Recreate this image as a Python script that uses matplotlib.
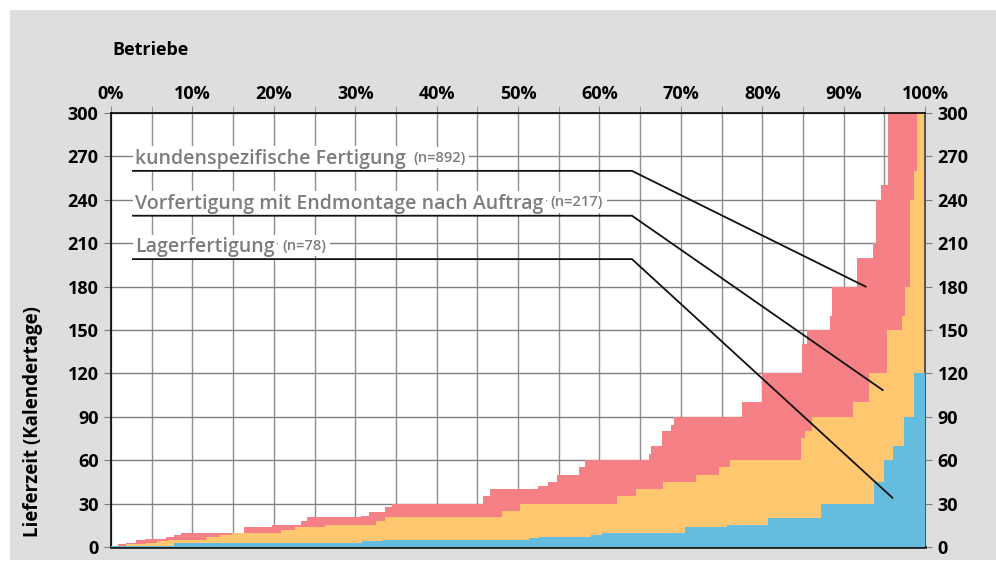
import matplotlib
matplotlib.use('Agg')
import matplotlib.pyplot as plt
from matplotlib.patches import Rectangle

plt.rcParams['font.family'] = ['Open Sans', 'DejaVu Sans']
plt.rcParams['font.weight'] = 'bold'

# Lieferzeit-Kurven: Anteil der Betriebe (%) -> Lieferzeit (Kalendertage), Stufen
red_x = [0, 0.9, 1.9, 3.1, 4.2, 6.8, 7.7, 8.6, 16.4, 19.8, 23.3, 24.1, 30.7, 31.7,
         33.7, 34.5, 45.7, 46.6, 52.5, 53.7, 54.8, 57.5, 58.2, 66.1, 66.3, 67.7,
         68.8, 69.2, 77.5, 80.0, 84.9, 85.5, 88.3, 88.6, 91.6, 93.6, 94.0, 94.6, 95.5]
red_y = [0, 2, 3, 4.5, 5.3, 6.7, 8.3, 10, 14, 15, 18, 20.5, 21.5, 24.5,
         27.5, 30, 35, 40, 42, 45, 50, 55, 60, 64, 70, 80,
         84, 90, 100, 120, 140, 150, 160, 180, 200, 210, 240, 250, 300]

orange_x = [0, 1.9, 4.3, 5.6, 7.0, 11.7, 13.4, 14.9, 20.9, 22.6, 26.3, 32.6, 33.7,
            45.7, 48.0, 50.2, 62.2, 64.5, 67.8, 71.9, 74.7, 76.0, 84.8, 85.3, 86.1,
            91.2, 93.1, 95.3, 97.2, 97.6, 98.2, 98.6, 99.0]
orange_y = [1, 2.3, 3, 4, 5, 7, 8, 10, 12, 14, 15, 18, 20.5,
            21, 25, 30, 35, 40, 45, 50, 55, 60, 75, 80, 90,
            100, 120, 150, 160, 180, 240, 260, 300]

blue_x = [0, 7.7, 21.9, 30.8, 33.4, 51.4, 52.6, 59.0, 60.3, 70.5, 75.7, 80.7,
          87.2, 93.7, 95.0, 96.1, 97.4, 98.7]
blue_y = [1, 2.5, 3, 4, 5, 6.5, 7, 8, 10, 14, 15, 20,
          30, 45, 60, 70, 90, 120]

labels = ['kundenspezifische Fertigung', 'Vorfertigung mit Endmontage nach Auftrag',
          'Lagerfertigung']
counts = ['(n=892)', '(n=217)', '(n=78)']
# Hinweislinien: Höhe links, Endpunkt (x %, Tage)
line_levels = [260, 229, 199]
line_ends = [(92.7, 180), (94.8, 108.5), (96.0, 34)]

colors = ['#F58085', '#FFC870', '#64BDDF']

fig = plt.figure(figsize=(9.96, 5.68), dpi=100)
fig.patch.set_facecolor('white')
fig.patches.append(Rectangle((10 / 996, 8 / 568), 986 / 996, 550 / 568,
                             transform=fig.transFigure, facecolor='#DEDEDE',
                             edgecolor='none', zorder=-1))

ax = fig.add_axes([111 / 996, 1 - 547 / 568, 814 / 996, 434 / 568])
ax.set_facecolor('white')
ax.set_xlim(0, 100)
ax.set_ylim(0, 300)
ax.set_axisbelow(True)

for xs, ys, c, z in [(red_x, red_y, colors[0], 1), (orange_x, orange_y, colors[1], 2),
                     (blue_x, blue_y, colors[2], 3)]:
    ax.fill_between(xs + [100], ys + [ys[-1]], step='post', color=c, lw=0, zorder=z)

ax.xaxis.tick_top()
ax.set_xticks(range(0, 101, 10))
ax.set_xticklabels([f'{v}%' for v in range(0, 101, 10)])
ax.set_xticks(range(0, 101, 5), minor=True)
ax.set_yticks(range(0, 301, 30))
ax.grid(which='both', axis='x', color='#8e8e8e', lw=1)
ax.grid(which='major', axis='y', color='#808080', lw=1)
ax.tick_params(axis='x', which='both', length=5, color='#909090', labelsize=13, pad=2)
ax.tick_params(axis='y', left=True, right=True, labelleft=True, labelright=True,
               length=5, color='#808080', labelsize=13, pad=4)

for s in ['top', 'left']:
    ax.spines[s].set_color('black')
    ax.spines[s].set_linewidth(1.2)
ax.spines['bottom'].set_color('#222222')
ax.spines['bottom'].set_linewidth(2)
ax.spines['right'].set_color('#555555')
ax.spines['right'].set_linewidth(1.5)

for lab, n, lev, (ex, ey) in zip(labels, counts, line_levels, line_ends):
    ax.plot([2.7, 64, ex], [lev, lev, ey], color='#111111', lw=1.3, zorder=6,
            solid_joinstyle='miter')
    t = ax.text(3.0, lev + 1.5, lab, fontsize=14, fontweight='semibold', color='#7d7d7d',
                va='bottom', ha='left', zorder=5,
                bbox=dict(boxstyle='square,pad=0.12', fc='white', ec='none'))
    ax.annotate(n, xy=(1, 0), xycoords=t, xytext=(5, 3), textcoords='offset points',
                fontsize=10.5, fontweight='semibold', color='#7d7d7d',
                va='bottom', ha='left', zorder=4,
                bbox=dict(boxstyle='square,pad=0.25', fc='white', ec='none'))

fig.text(112 / 996, 1 - 50 / 568, 'Betriebe', fontsize=13, fontweight='bold',
         ha='left', va='center')
fig.text(33 / 996, 1 - 422 / 568, 'Lieferzeit (Kalendertage)', fontsize=13.5,
         fontweight='bold', rotation=90, ha='center', va='center')

fig.savefig('out.png', dpi=100)
